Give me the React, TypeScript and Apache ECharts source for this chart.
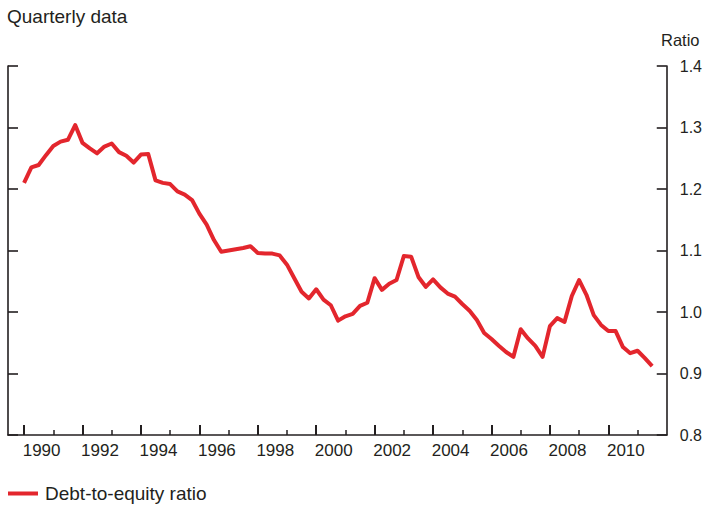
import React, { useEffect, useRef } from "react";
import * as echarts from "echarts";

// Quarterly debt-to-equity ratio, 1990 Q1 - 2011 Q3
const startYear = 1990;
const ratioValues: number[] = [
  1.210, 1.235, 1.239, 1.255, 1.270, 1.277, 1.280, 1.304,
  1.275, 1.266, 1.258, 1.269, 1.274, 1.260, 1.254, 1.243,
  1.256, 1.257, 1.214, 1.210, 1.208, 1.196, 1.191, 1.182,
  1.160, 1.142, 1.117, 1.098, 1.100, 1.102, 1.104, 1.107,
  1.096, 1.095, 1.095, 1.092, 1.077, 1.055, 1.033, 1.022,
  1.037, 1.020, 1.011, 0.986, 0.993, 0.997, 1.010, 1.015,
  1.055, 1.036, 1.046, 1.052, 1.091, 1.090, 1.057, 1.041,
  1.053, 1.040, 1.030, 1.025, 1.013, 1.002, 0.987, 0.966,
  0.956, 0.945, 0.935, 0.927, 0.972, 0.957, 0.945, 0.927,
  0.977, 0.990, 0.984, 1.026, 1.052, 1.028, 0.995, 0.979,
  0.969, 0.969, 0.943, 0.933, 0.937, 0.925, 0.912,
];
const majorYears = [1990, 1992, 1994, 1996, 1998, 2000, 2002, 2004, 2006, 2008, 2010];
const minorYears = [1991, 1993, 1995, 1997, 1999, 2001, 2003, 2005, 2007, 2009, 2011];
const yTicks = [0.8, 0.9, 1.0, 1.1, 1.2, 1.3, 1.4];

const INK = "#231f20";
const RED = "#e3262d";
const FONT = "'Liberation Sans', Arial, Helvetica, sans-serif";

export default function App() {
  const ref = useRef<HTMLDivElement>(null);
  useEffect(() => {
    if (!ref.current) return;
    const chart = echarts.init(ref.current, null, { renderer: "svg" });
    const data = ratioValues.map((v, i) => [startYear + i * 0.25, v]);
    const xMin = 1989.45;
    const xMax = 2012;
    const yBase = {
      type: "value" as const,
      min: yTicks[0],
      max: yTicks[yTicks.length - 1],
      interval: 0.1,
      splitLine: { show: false },
      axisLine: { show: true, lineStyle: { color: INK, width: 1.6 } },
      axisTick: { show: true, inside: true, length: 10, lineStyle: { color: INK, width: 1.6 } },
    };
    chart.setOption({
      animation: false,
      textStyle: { fontFamily: FONT },
      title: [
        {
          text: "Quarterly data",
          left: 7,
          top: 7,
          padding: 0,
          textStyle: { fontSize: 19, fontWeight: "normal", color: INK, fontFamily: FONT },
        },
        {
          text: "Ratio",
          left: 661,
          top: 31,
          padding: 0,
          textStyle: { fontSize: 16.5, fontWeight: "normal", color: INK, fontFamily: FONT },
        },
      ],
      legend: {
        left: 8,
        top: 484,
        padding: 0,
        itemWidth: 30,
        itemHeight: 4,
        itemGap: 10,
        icon: "rect",
        data: [{ name: "Debt-to-equity ratio", itemStyle: { color: RED } }],
        textStyle: { fontSize: 19, color: INK, fontFamily: FONT, padding: [0, 0, 0, 2] },
      },
      grid: { left: 8, right: 38, top: 66, bottom: 70, containLabel: false },
      xAxis: [
        {
          type: "value",
          position: "bottom",
          min: xMin,
          max: xMax,
          splitLine: { show: false },
          axisLine: { show: true, lineStyle: { color: INK, width: 1.6 } },
          axisTick: {
            show: true,
            inside: true,
            length: 10,
            customValues: majorYears,
            lineStyle: { color: INK, width: 2 },
          },
          axisLabel: {
            show: true,
            customValues: majorYears.map((y) => y + 0.6),
            formatter: (v: number) => String(Math.floor(v)),
            fontSize: 17,
            color: INK,
            margin: 7,
            fontFamily: FONT,
          },
        },
        {
          type: "value",
          position: "bottom",
          min: xMin,
          max: xMax,
          splitLine: { show: false },
          axisLine: { show: false },
          axisTick: {
            show: true,
            inside: true,
            length: 5,
            customValues: minorYears,
            lineStyle: { color: INK, width: 1.5 },
          },
          axisLabel: { show: false },
        },
      ],
      yAxis: [
        {
          ...yBase,
          position: "right",
          axisLabel: {
            show: true,
            margin: 13,
            fontSize: 16,
            color: INK,
            fontFamily: FONT,
            formatter: (v: number) => v.toFixed(1),
          },
        },
        {
          ...yBase,
          position: "left",
          axisLabel: { show: false },
        },
      ],
      series: [
        {
          name: "Debt-to-equity ratio",
          type: "line",
          xAxisIndex: 0,
          yAxisIndex: 0,
          data,
          symbol: "none",
          lineStyle: { color: RED, width: 4, join: "round" },
          itemStyle: { color: RED },
        },
      ],
    });
    return () => chart.dispose();
  }, []);
  return (
    <div
      ref={ref}
      style={{ position: "absolute", left: 0, top: 0, width: 705, height: 505, background: "#fff" }}
    />
  );
}
